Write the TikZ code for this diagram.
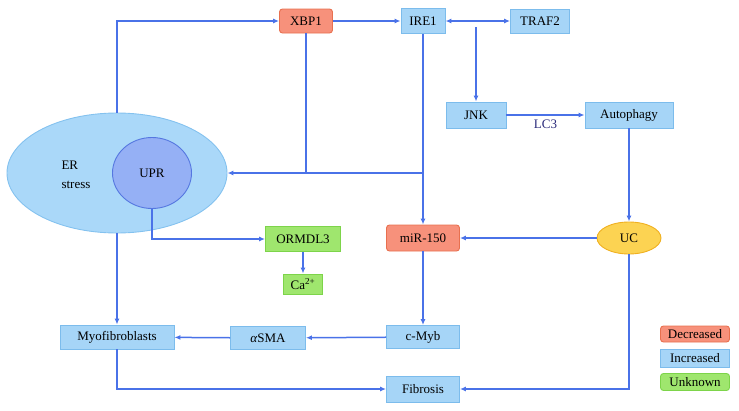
\documentclass[tikz,border=0pt]{standalone}
\usepackage{fontspec}
\setmainfont{Liberation Serif}
\usetikzlibrary{shapes.geometric,arrows.meta}
\definecolor{linecol}{HTML}{4A72E8}
\definecolor{incfill}{HTML}{A6D5F7}
\definecolor{incdraw}{HTML}{7CBCEC}
\definecolor{decfill}{HTML}{F7917B}
\definecolor{decdraw}{HTML}{E8704F}
\definecolor{unkfill}{HTML}{9FE66E}
\definecolor{unkdraw}{HTML}{7DD44A}
\definecolor{ucfill}{HTML}{FCD352}
\definecolor{ucdraw}{HTML}{F0B020}
\definecolor{erfill}{HTML}{AAD8F9}
\definecolor{erdraw}{HTML}{84C2EF}
\definecolor{uprfill}{HTML}{95B0F5}
\definecolor{uprdraw}{HTML}{5577E0}
\definecolor{labcol}{HTML}{2A2A7A}
\tikzset{
  box/.style={draw, line width=0.9pt, inner sep=0pt, font=\fontsize{13}{15}\selectfont},
  inc/.style={box, fill=incfill, draw=incdraw},
  dec/.style={box, fill=decfill, draw=decdraw, rounded corners=3pt},
  unk/.style={box, fill=unkfill, draw=unkdraw},
  link/.style={draw=linecol, line width=1.5pt},
  >={Latex[length=6pt,width=5pt]}
}
\begin{document}
\begin{tikzpicture}[x=1pt,y=-1pt]
                \useasboundingbox (0,0) rectangle (739,410);
                %% ER stress and UPR
                \node[ellipse, fill=erfill, draw=erdraw, line width=0.9pt, minimum width=220pt, minimum height=120pt] (er) at (117,173) {};
                \node[align=left, anchor=west, font=\fontsize{13}{19}\selectfont] (erlab) at (58,175) {ER\\stress};
                \node[ellipse, fill=uprfill, draw=uprdraw, line width=0.9pt, minimum width=79pt, minimum height=71pt, font=\fontsize{13}{15}\selectfont] (upr) at (152,173) {UPR};
                %% top row
                \node[dec, minimum width=53pt, minimum height=24pt] (xbp1) at (306,21) {XBP1};
                \node[inc, minimum width=44pt, minimum height=25pt] (ire1) at (423,21) {IRE1};
                \node[inc, minimum width=59pt, minimum height=24pt] (traf2) at (540,21) {TRAF2};
                \node[inc, minimum width=60pt, minimum height=26pt] (jnk) at (476,115) {JNK};
                \node[inc, minimum width=88pt, minimum height=26pt] (auto) at (629,115) {Autophagy};
                %% middle row
                \node[ellipse, fill=ucfill, draw=ucdraw, line width=0.9pt, minimum width=64pt, minimum height=32pt, inner sep=0pt, font=\fontsize{13}{15}\selectfont] (uc) at (629,238) {UC};
                \node[dec, minimum width=73pt, minimum height=26pt] (mir) at (423,238) {miR-150};
                \node[unk, minimum width=75pt, minimum height=25pt] (ormdl) at (303,239) {ORMDL3};
                \node[unk, minimum width=39pt, minimum height=20pt] (ca) at (303,284) {Ca\textsuperscript{2+}};
                %% bottom rows
                \node[inc, minimum width=73pt, minimum height=23pt] (cmyb) at (423,337) {c-Myb};
                \node[inc, minimum width=75pt, minimum height=23pt] (asma) at (268,338) {\textit{α}SMA};
                \node[inc, minimum width=114pt, minimum height=24pt] (myo) at (117,337) {Myofibroblasts};
                \node[inc, minimum width=73pt, minimum height=26pt] (fib) at (423,389) {Fibrosis};
                %% legend
                \node[dec, minimum width=69pt, minimum height=16pt] (ldec) at (695,334) {Decreased};
                \node[inc, minimum width=69pt, minimum height=18pt] (linc) at (695,358) {Increased};
                \node[unk, minimum width=69pt, minimum height=17pt, rounded corners=3pt] (lunk) at (695,382) {Unknown};
                %% connectors
                \coordinate (j1) at (ire1.south |- er.east);
                \coordinate (jt) at (476,27);
                \draw[link,->] (er.north) |- (xbp1.west);
                \draw[link,->] (xbp1) -- (ire1);
                \draw[link] (xbp1.south) -- (xbp1.south |- er.east);
                \draw[link,->] (j1) -- (er.east);
                \draw[link,->] (ire1.south) -- (mir.north);
                \draw[link,<->] (ire1.east) -- (traf2.west);
                \draw[link,->] (jt) -- (jnk.north);
                \draw[link,->] (jnk) -- (auto) node[midway, below=1pt, text=labcol, font=\fontsize{13}{15}\selectfont] {LC3};
                \draw[link,->] (auto.south) -- (uc.north);
                \draw[link,->] (uc.west) -- (mir.east);
                \draw[link,->] (mir) -- (cmyb);
                \draw[link,->] (cmyb) -- (asma);
                \draw[link,->] (asma) -- (myo);
                \draw[link,->] (er.south) -- (myo.north);
                \draw[link,->] (myo.south) |- (fib.west);
                \draw[link,->] (uc.south) |- (fib.east);
                \draw[link,->] (upr.south) |- (ormdl.west);
                \draw[link,->] (ormdl) -- (ca);
            \end{tikzpicture}
\end{document}
